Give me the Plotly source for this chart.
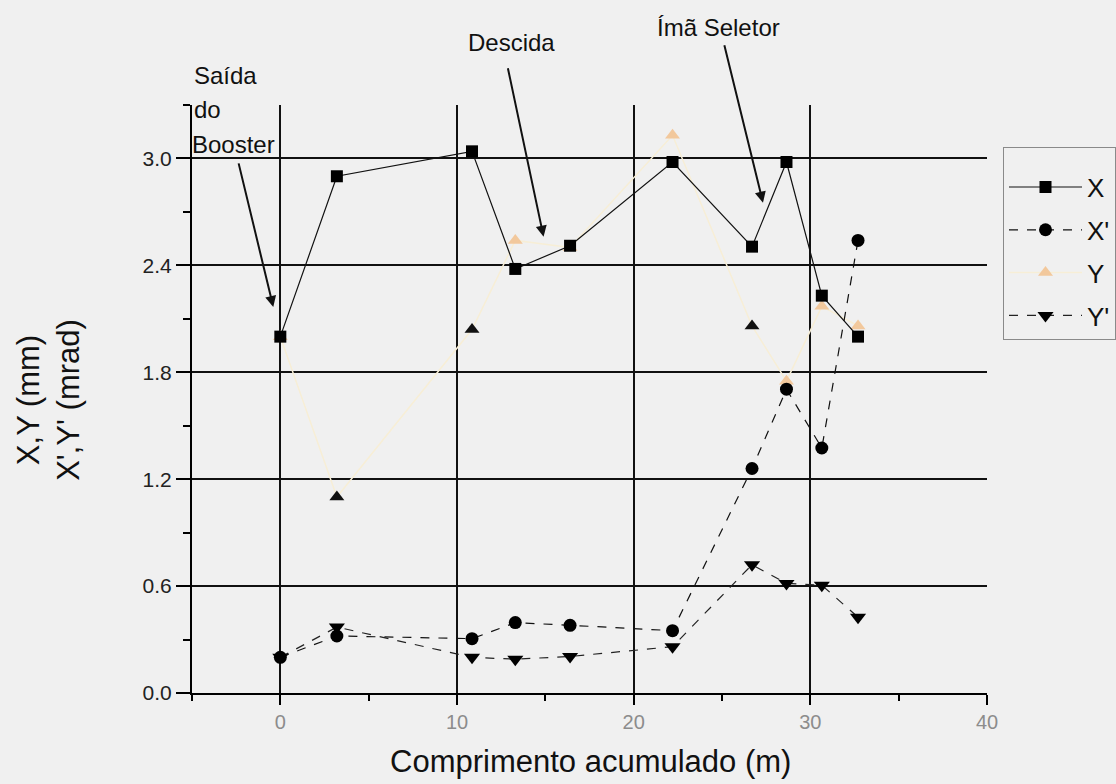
import plotly.graph_objects as go

# Accumulated length along the transfer line (m)
posicao = [0, 3.2, 10.85, 13.3, 16.4, 22.2, 26.7, 28.65, 30.65, 32.7]

# Beam envelope values at each position
x_mm = [2.00, 2.90, 3.04, 2.38, 2.51, 2.98, 2.505, 2.98, 2.23, 2.00]
xp_mrad = [0.20, 0.32, 0.305, 0.395, 0.38, 0.35, 1.26, 1.705, 1.375, 2.54]
y_mm = [2.00, 1.10, 2.04, 2.54, 2.50, 3.13, 2.06, 1.75, 2.17, 2.06]
yp_mrad = [0.20, 0.37, 0.20, 0.19, 0.205, 0.26, 0.72, 0.615, 0.605, 0.425]

FONT = "Liberation Sans, Arial, sans-serif"
BG = "#F0F0F0"
PEACH = "#F2C89C"

fig = go.Figure()

# Y (pale) drawn first so the other series sit on top
fig.add_trace(go.Scatter(
    x=posicao, y=y_mm, name="Y", mode="lines+markers", legendrank=3, legendgroup="y",
    line=dict(color="#F7EED6", width=1.5),
    marker=dict(symbol="triangle-up", size=13,
                color=[PEACH, "#111", "#111", PEACH, PEACH, PEACH, "#111", PEACH, PEACH, PEACH],
                line=dict(width=0)),
))
fig.add_trace(go.Scatter(
    x=posicao, y=yp_mrad, name="Y'", mode="lines+markers", legendrank=4, legendgroup="yp",
    line=dict(color="#222", width=1.2, dash="dash"),
    marker=dict(symbol="triangle-down", size=14, color="#000", line=dict(width=0)),
))
fig.add_trace(go.Scatter(
    x=posicao, y=xp_mrad, name="X'", mode="lines+markers", legendrank=2, legendgroup="xp",
    line=dict(color="#111", width=1.2, dash="dash"),
    marker=dict(symbol="circle", size=13, color="#000", line=dict(width=0)),
))
fig.add_trace(go.Scatter(
    x=posicao, y=x_mm, name="X", mode="lines+markers", legendrank=1, legendgroup="x",
    line=dict(color="#111", width=1.2),
    marker=dict(symbol="square", size=12, color="#000", line=dict(width=0)),
))

# Labelled arrows pointing at the relevant locations
arrows = [
    dict(x=-0.40, y=2.167, ax=-35, ay=-145),
    dict(x=14.90, y=2.561, ax=-36, ay=-170),
    dict(x=27.32, y=2.752, ax=-39, ay=-159),
]
annotations = []
for a in arrows:
    annotations.append(dict(
        x=a["x"], y=a["y"], xref="x", yref="y", ax=a["ax"], ay=a["ay"],
        text="", showarrow=True, arrowhead=2, arrowsize=1.1, arrowwidth=2,
        arrowcolor="#111", standoff=0, startstandoff=0,
    ))

def label(text, px, py, size=24, xanchor="center"):
    # px, py given in page pixels; plot area spans x 192..987, y 105..693
    return dict(
        text=text, x=(px - 192) / 795, y=(693.3 - py) / 588.3,
        xref="paper", yref="paper", showarrow=False, xanchor=xanchor,
        yanchor="middle", font=dict(family=FONT, size=size, color="#111"),
    )

annotations += [
    label("Saída", 192, 75, xanchor="left"),
    label("do", 192, 110, xanchor="left"),
    label("Booster", 190, 145, xanchor="left"),
    label("Descida", 511, 42),
    label("Ímã Seletor", 718, 27),
    label("Comprimento acumulado (m)", 590, 762, size=31),
]
annotations.append(dict(
    text="X,Y (mm)<br>X',Y' (mrad)", textangle=-90,
    x=(49 - 192) / 795, y=(693.3 - 400) / 588.3, xref="paper", yref="paper",
    showarrow=False, xanchor="center", yanchor="middle",
    font=dict(family=FONT, size=31, color="#111"),
))

fig.update_layout(
    width=1116, height=784,
    margin=dict(l=192, r=129, t=105, b=91, autoexpand=False),
    paper_bgcolor=BG, plot_bgcolor=BG,
    font=dict(family=FONT, color="#111"),
    showlegend=True,
    legend=dict(
        x=(1003 - 192) / 795, y=(693.3 - 147) / 588.3,
        xanchor="left", yanchor="top",
        bgcolor=BG, bordercolor="#8a8a8a", borderwidth=1,
        font=dict(family=FONT, size=26, color="#111"),
        title=dict(text=" ", font=dict(size=12)),
        itemwidth=73, tracegroupgap=6,
    ),
    annotations=annotations,
)

fig.update_xaxes(
    range=[-5, 40], tickmode="linear", tick0=0, dtick=10,
    showgrid=True, gridcolor="#111", gridwidth=1.6, zeroline=False,
    showline=True, linecolor="#000", linewidth=2,
    ticks="outside", ticklen=10, tickwidth=2, tickcolor="#000",
    minor=dict(dtick=5, tick0=0, ticks="outside", ticklen=6, tickwidth=2,
               tickcolor="#000", showgrid=False),
    tickfont=dict(family=FONT, size=20, color="#8c8c8c"),
)
fig.update_yaxes(
    range=[0, 3.3], tickmode="linear", tick0=0, dtick=0.6, tickformat=".1f",
    showgrid=True, gridcolor="#111", gridwidth=1.5, zeroline=False,
    showline=True, linecolor="#000", linewidth=2,
    ticks="outside", ticklen=14, tickwidth=2, tickcolor="#000",
    minor=dict(dtick=0.3, tick0=0, ticks="outside", ticklen=7, tickwidth=2,
               tickcolor="#000", showgrid=False),
    tickfont=dict(family=FONT, size=21, color="#222"),
)

fig.write_html("out.html")
